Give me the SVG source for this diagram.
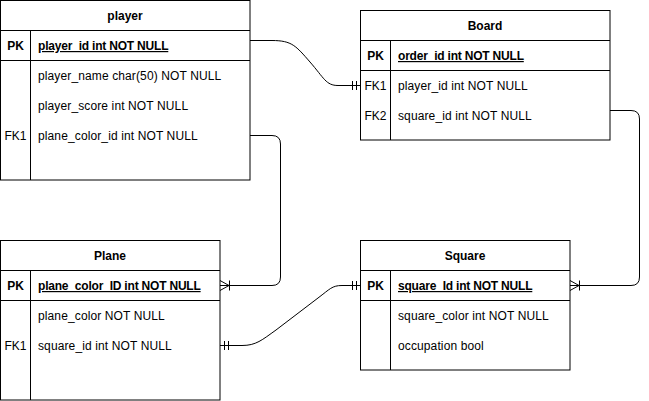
<svg xmlns="http://www.w3.org/2000/svg" width="649" height="401" viewBox="0 0 649 401">
<style>
.box{fill:#fff;stroke:#000;stroke-width:1}
.ln{fill:none;stroke:#000;stroke-width:1}
text{font-family:"Liberation Sans",Arial,sans-serif;font-size:12px;fill:#000;letter-spacing:0.12px}
.h{font-weight:bold;text-anchor:middle;letter-spacing:0}
.k{font-weight:bold;text-anchor:middle;letter-spacing:0}
.pk{font-weight:bold;text-decoration:underline;letter-spacing:-0.2px}
.fk{text-anchor:middle;letter-spacing:0}
.c{fill:none;stroke:#000;stroke-width:1}
</style>
<rect width="649" height="401" fill="#fff"/>
<g id="player">
<rect class="box" x="0.5" y="0.5" width="249.5" height="179.5"/>
<path class="ln" d="M0.5 30.5H250M0.5 60.5H250M30.5 30.5V180"/>
<text class="h" x="125" y="20">player</text>
<text class="k" x="15.5" y="50">PK</text>
<text class="pk" x="38" y="50">player_id int NOT NULL</text>
<text x="38" y="80">player_name char(50) NOT NULL</text>
<text x="38" y="110">player_score int NOT NULL</text>
<text class="fk" x="15.5" y="140">FK1</text>
<text x="38" y="140">plane_color_id int NOT NULL</text>
</g>
<g id="board">
<rect class="box" x="360.5" y="10.5" width="249.5" height="129.5"/>
<path class="ln" d="M360.5 40.5H610M360.5 70.5H610M390.5 40.5V140"/>
<text class="h" x="485" y="30">Board</text>
<text class="k" x="375.5" y="60">PK</text>
<text class="pk" x="398" y="60">order_id int NOT NULL</text>
<text class="fk" x="375.5" y="90">FK1</text>
<text x="398" y="90">player_id int NOT NULL</text>
<text class="fk" x="375.5" y="120">FK2</text>
<text x="398" y="120">square_id int NOT NULL</text>
</g>
<g id="plane">
<rect class="box" x="0.5" y="240.5" width="219.5" height="159.5"/>
<path class="ln" d="M0.5 270.5H220M0.5 300.5H220M30.5 270.5V400"/>
<text class="h" x="110" y="260">Plane</text>
<text class="k" x="15.5" y="290">PK</text>
<text class="pk" x="38" y="290">plane_color_ID int NOT NULL</text>
<text x="38" y="320">plane_color NOT NULL</text>
<text class="fk" x="15.5" y="350">FK1</text>
<text x="38" y="350">square_id int NOT NULL</text>
</g>
<g id="square">
<rect class="box" x="360.5" y="240.5" width="209.5" height="129.5"/>
<path class="ln" d="M360.5 270.5H570M360.5 300.5H570M390.5 270.5V370"/>
<text class="h" x="465" y="260">Square</text>
<text class="k" x="375.5" y="290">PK</text>
<text class="pk" x="398" y="290">square_Id int NOT NULL</text>
<text x="398" y="320">square_color int NOT NULL</text>
<text x="398" y="350">occupation bool</text>
</g>
<g id="connectors">
<path class="c" d="M250 40.5H272C292 40.5 296 46 310 62C324 78 326 85.5 338 85.5H360"/>
<path class="c" d="M352.5 81V90M356.5 81V90"/>
<path class="c" d="M250 135.5H272Q280.5 135.5 280.5 144V277Q280.5 285.5 272 285.5H220"/>
<path class="c" d="M220 280.5L229 285.5L220 290.5M229.5 280.5V290.5"/>
<path class="c" d="M220 345.5H242C256 345.5 262 340 276 330L318 298C330 289 332 285.5 342 285.5H360"/>
<path class="c" d="M224.5 341V350M228.5 341V350M352.5 281V290M356.5 281V290"/>
<path class="c" d="M610 110.5H631Q639.5 110.5 639.5 119V277Q639.5 285.5 631 285.5H570"/>
<path class="c" d="M570 280.5L579 285.5L570 290.5M579.5 280.5V290.5"/>
</g>
</svg>
